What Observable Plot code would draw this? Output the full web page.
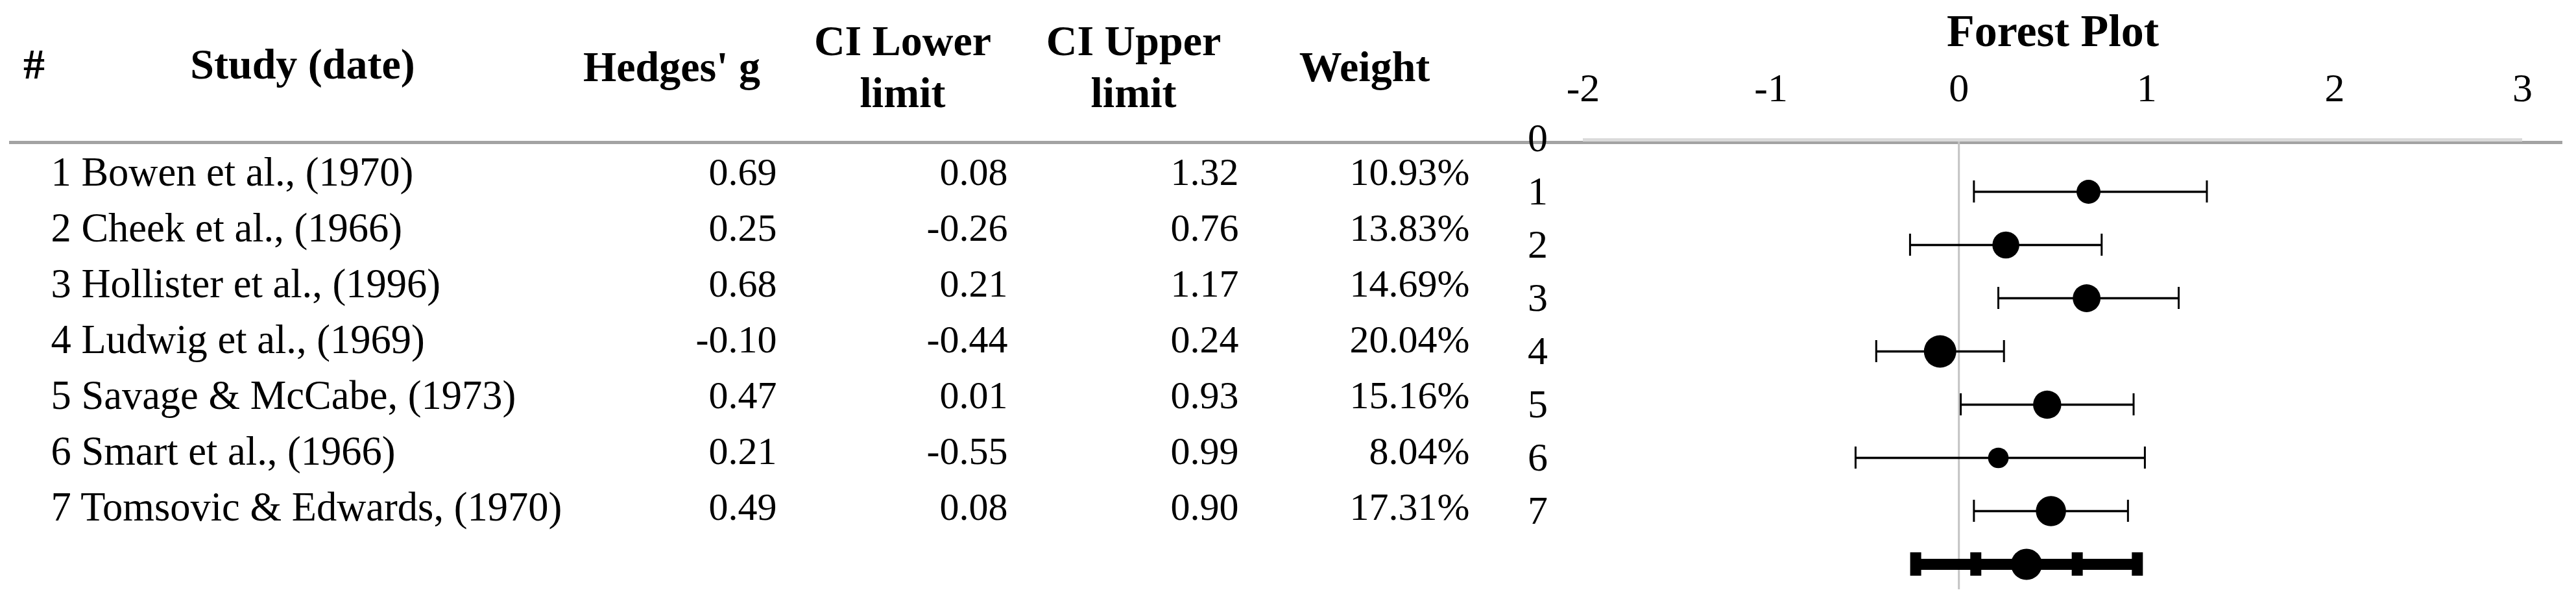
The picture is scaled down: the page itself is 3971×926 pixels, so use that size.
<!DOCTYPE html>
<html>
<head>
<meta charset="utf-8">
<script src="https://cdn.jsdelivr.net/npm/d3@7"></script>
<script src="https://cdn.jsdelivr.net/npm/@observablehq/plot@0.6"></script>
<style>
  html, body { margin: 0; padding: 0; background: #ffffff; }
  #wrap { position: relative; width: 3971px; height: 926px; overflow: hidden; background: #ffffff; }
  #wrap svg { position: absolute; left: 0; top: 0; }
</style>
</head>
<body>
<div id="wrap"></div>
<script>
// ---------- data ----------
const rowIds = [1, 2, 3, 4, 5, 6, 7];
const studies = [
  "Bowen et al., (1970)",
  "Cheek et al., (1966)",
  "Hollister et al., (1996)",
  "Ludwig et al., (1969)",
  "Savage & McCabe, (1973)",
  "Smart et al., (1966)",
  "Tomsovic & Edwards, (1970)"
];
const hedgesG = [0.69, 0.25, 0.68, -0.10, 0.47, 0.21, 0.49];
const ciLower = [0.08, -0.26, 0.21, -0.44, 0.01, -0.55, 0.08];
const ciUpper = [1.32, 0.76, 1.17, 0.24, 0.93, 0.99, 0.90];
const weights = [10.93, 13.83, 14.69, 20.04, 15.16, 8.04, 17.31];

// pooled (summary) row
const summaryEstimate = [0.36];
const summaryCI = [0.09, 0.63];
const summaryPI = [-0.23, 0.95];

const headerKeys = ["g", "lo", "hi", "w"];
const headerLabels = ["Hedges' g", "CI Lower\nlimit", "CI Upper\nlimit", "Weight"];
const xTicks = [-2, -1, 0, 1, 2, 3];
const forestRowLabels = [0, 1, 2, 3, 4, 5, 6, 7];
const forestRows = [0, 1, 2, 3, 4, 5, 6, 7, 8];
const summaryRow = 8;

const rows = rowIds.map((id, i) => ({
  id, study: studies[i], g: hedgesG[i], lower: ciLower[i], upper: ciUpper[i], weight: weights[i]
}));
const headers = headerKeys.map((key, i) => ({key, label: headerLabels[i]}));

const FONT = "'Liberation Serif', 'Times New Roman', serif";
const wrap = document.getElementById("wrap");

// ---------- table ----------
const fmt = v => v.toFixed(2);
const col = k => rows.map(() => k);

const table = Plot.plot({
  width: 3971,
  height: 926,
  marginLeft: 14,
  marginRight: 21,
  marginTop: 219,
  marginBottom: 0,
  style: {fontFamily: FONT, fontSize: "60px", background: "transparent", color: "#000", overflow: "visible"},
  x: {type: "band", domain: headerKeys, range: [857, 2281], padding: 0, axis: null},
  y: {type: "point", domain: rowIds, range: [265, 781], padding: 0, axis: null},
  marks: [
    Plot.ruleY([rowIds[0]], {dy: -46, stroke: "#a3a3a3", strokeWidth: 5}),
    // headers
    Plot.text(["#"], {frameAnchor: "top-left", dx: 38, dy: -120, textAnchor: "middle", lineAnchor: "middle", fontWeight: "bold", fontSize: 66, fill: "#000"}),
    Plot.text(["Study (date)"], {frameAnchor: "top-left", dx: 452, dy: -120, textAnchor: "middle", lineAnchor: "middle", fontWeight: "bold", fontSize: 66, fill: "#000"}),
    Plot.text(headers, {x: "key", text: "label", frameAnchor: "top", dy: -120, lineAnchor: "middle", lineHeight: 1.21, fontWeight: "bold", fontSize: 66, fill: "#000"}),
    // rows
    Plot.text(rows, {y: "id", text: d => `${d.id} ${d.study}`, frameAnchor: "left", dx: 64, textAnchor: "start", fontSize: 62.5, fill: "#000"}),
    Plot.text(rows, {x: col("g"), y: "id", text: d => fmt(d.g), textAnchor: "end", dx: 162, fill: "#000"}),
    Plot.text(rows, {x: col("lo"), y: "id", text: d => fmt(d.lower), textAnchor: "end", dx: 162, fill: "#000"}),
    Plot.text(rows, {x: col("hi"), y: "id", text: d => fmt(d.upper), textAnchor: "end", dx: 162, fill: "#000"}),
    Plot.text(rows, {x: col("w"), y: "id", text: d => fmt(d.weight) + "%", textAnchor: "end", dx: 162, fill: "#000"})
  ]
});
wrap.appendChild(table);

// ---------- forest plot ----------
const summaryObj = [{row: summaryRow, est: summaryEstimate[0], pl: summaryPI[0], pu: summaryPI[1]}];
const summaryCaps = [summaryPI[0], summaryCI[0], summaryCI[1], summaryPI[1]];

const forest = Plot.plot({
  width: 3971,
  height: 926,
  marginLeft: 2440,
  marginRight: 83,
  marginTop: 213,
  marginBottom: 18,
  style: {fontFamily: FONT, fontSize: "62px", background: "transparent", color: "#000", overflow: "visible"},
  x: {domain: [-2, 3], axis: null},
  y: {type: "band", domain: forestRows, range: [168, 914], padding: 0, axis: null},
  r: {type: "sqrt", domain: [0, d3.max(weights)], range: [0, 25]},
  marks: [
    Plot.ruleX([0], {stroke: "#c4c4c4", strokeWidth: 3}),
    Plot.ruleY([0], {dy: 2, stroke: "#dadada", strokeWidth: 5}),
    Plot.ruleY(rows, {y: "id", x1: "lower", x2: "upper", stroke: "#000", strokeWidth: 3.5}),
    Plot.tickX(rows, {x: "lower", y: "id", insetTop: 24, insetBottom: 24, stroke: "#000", strokeWidth: 3}),
    Plot.tickX(rows, {x: "upper", y: "id", insetTop: 24, insetBottom: 24, stroke: "#000", strokeWidth: 3}),
    Plot.dot(rows, {x: "g", y: "id", r: "weight", fill: "#000", stroke: null}),
    // summary
    Plot.ruleY(summaryObj, {y: "row", x1: "pl", x2: "pu", stroke: "#000", strokeWidth: 17}),
    Plot.tickX(summaryCaps, {x: d => d, y: () => summaryRow, insetTop: 23, insetBottom: 23, stroke: "#000", strokeWidth: 17}),
    Plot.dot(summaryObj, {x: "est", y: "row", r: 24, fill: "#000", stroke: null}),
    // axis labels
    Plot.text(forestRowLabels, {y: d => d, text: d => String(d), frameAnchor: "left", dx: -70, textAnchor: "middle", fill: "#000"}),
    Plot.text(xTicks, {x: d => d, text: d => String(d), frameAnchor: "top", dy: -77, lineAnchor: "middle", fill: "#000"}),
    Plot.text(["Forest Plot"], {frameAnchor: "top", dy: -165, lineAnchor: "middle", fontWeight: "bold", fontSize: 70, fill: "#000"})
  ]
});
wrap.appendChild(forest);
</script>
</body>
</html>
